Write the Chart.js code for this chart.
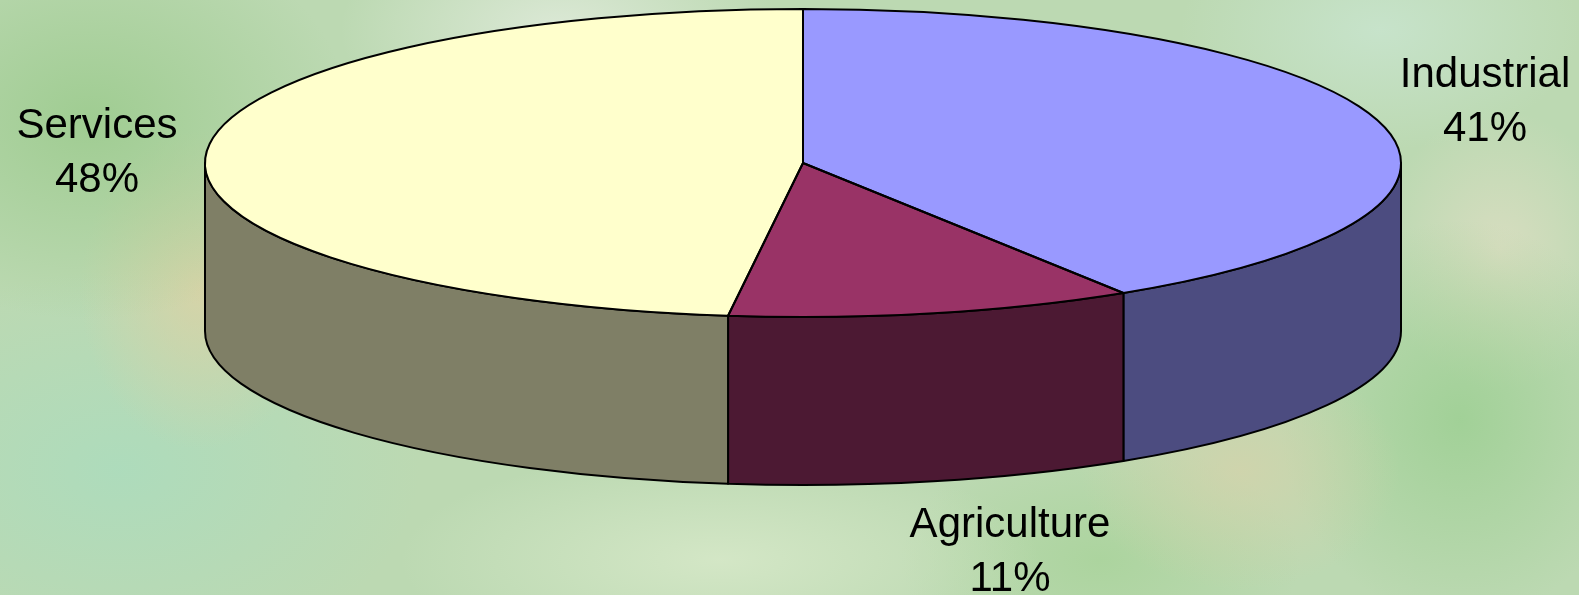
<!DOCTYPE html>
<html>
<head>
<meta charset="utf-8">
<script src="https://cdn.jsdelivr.net/npm/chart.js@4.4.1/dist/chart.umd.min.js"></script>
<style>
  html, body { margin: 0; padding: 0; }
  #wrap {
    width: 1579px; height: 595px; position: relative;
    background:
      radial-gradient(ellipse 260px 200px at 90px 120px, rgba(150,200,135,0.75), rgba(150,200,135,0) 100%),
      radial-gradient(ellipse 220px 120px at 560px 30px, rgba(225,235,220,0.85), rgba(225,235,220,0) 100%),
      radial-gradient(ellipse 120px 160px at 200px 290px, rgba(220,210,165,0.8), rgba(220,210,165,0) 100%),
      radial-gradient(ellipse 300px 200px at 120px 470px, rgba(170,220,190,0.8), rgba(170,220,190,0) 100%),
      radial-gradient(ellipse 320px 110px at 720px 560px, rgba(214,232,200,0.9), rgba(214,232,200,0) 100%),
      radial-gradient(ellipse 160px 120px at 1240px 470px, rgba(215,210,170,0.7), rgba(215,210,170,0) 100%),
      radial-gradient(ellipse 180px 200px at 1460px 420px, rgba(150,205,140,0.7), rgba(150,205,140,0) 100%),
      radial-gradient(ellipse 200px 120px at 1380px 30px, rgba(200,228,205,0.9), rgba(200,228,205,0) 100%),
      radial-gradient(ellipse 120px 140px at 1500px 250px, rgba(222,222,195,0.8), rgba(222,222,195,0) 100%),
      radial-gradient(ellipse 200px 120px at 1100px 560px, rgba(165,210,150,0.7), rgba(165,210,150,0) 100%),
      #bcd9b2;
  }
</style>
</head>
<body>
<div id="wrap"><canvas id="chart1"></canvas></div>
<script>
const categories = ['Industrial', 'Agriculture', 'Services'];
const shares = [41, 11, 48];
const topColors = ['#9999FF', '#993366', '#FFFFCC'];
const sideColors = ['#4C4C80', '#4C1933', '#7F7F66'];

// screen geometry of the tilted pie
const tilt = { rx: 598, ry: 154, depth: 168 };
const labelSpots = [
  { x: 1485, y: 87 },
  { x: 1010, y: 537 },
  { x: 97, y: 138 }
];

let tilted = false;
const pie3d = {
  id: 'pie3d',
  beforeDatasetsDraw(chart) {
    const arcs = chart.getDatasetMeta(0).data;
    if (!arcs.length) return;
    const ctx = chart.ctx;
    const cx = arcs[0].x, cy = arcs[0].y, r = arcs[0].outerRadius;
    // side walls, only the front half is visible
    ctx.save();
    ctx.lineWidth = 2;
    ctx.strokeStyle = '#000';
    ctx.lineJoin = 'round';
    arcs.forEach((arc, i) => {
      [[0, Math.PI], [2 * Math.PI, 3 * Math.PI]].forEach(([lo, hi]) => {
        const a = Math.max(arc.startAngle, lo), b = Math.min(arc.endAngle, hi);
        if (b <= a) return;
        ctx.beginPath();
        ctx.ellipse(cx, cy, tilt.rx, tilt.ry, 0, a, b);
        ctx.ellipse(cx, cy + tilt.depth, tilt.rx, tilt.ry, 0, b, a, true);
        ctx.closePath();
        ctx.fillStyle = sideColors[i];
        ctx.fill();
        ctx.stroke();
      });
    });
    ctx.restore();
    // squash the round pie into the top ellipse
    ctx.save();
    ctx.translate(cx, cy);
    ctx.scale(tilt.rx / r, tilt.ry / r);
    ctx.translate(-cx, -cy);
    tilted = true;
  },
  afterDatasetsDraw(chart) {
    if (!tilted) return;
    const ctx = chart.ctx;
    ctx.restore();
    tilted = false;
    const arcs = chart.getDatasetMeta(0).data;
    const cx = arcs[0].x, cy = arcs[0].y;
    ctx.save();
    ctx.lineWidth = 2;
    ctx.strokeStyle = '#000';
    ctx.lineJoin = 'round';
    arcs.forEach(arc => {
      ctx.beginPath();
      ctx.moveTo(cx, cy);
      ctx.ellipse(cx, cy, tilt.rx, tilt.ry, 0, arc.startAngle, arc.endAngle);
      ctx.closePath();
      ctx.stroke();
    });
    ctx.restore();
  },
  afterDraw(chart) {
    const ctx = chart.ctx;
    const data = chart.data.datasets[0].data;
    const total = data.reduce((s, v) => s + v, 0);
    ctx.save();
    ctx.font = '42px "Liberation Sans", Arial, sans-serif';
    ctx.fillStyle = '#000';
    ctx.textAlign = 'center';
    ctx.textBaseline = 'alphabetic';
    chart.data.labels.forEach((lab, i) => {
      const p = labelSpots[i];
      ctx.fillText(lab, p.x, p.y);
      ctx.fillText(Math.round(data[i] / total * 100) + '%', p.x, p.y + 54);
    });
    ctx.restore();
  }
};

const ctx = document.getElementById('chart1');
new Chart(ctx, {
  type: 'pie',
  data: {
    labels: categories,
    datasets: [{
      data: shares,
      backgroundColor: topColors,
      borderWidth: 0,
      hoverOffset: 0,
      clip: false
    }]
  },
  options: {
    responsive: true,
    maintainAspectRatio: false,
    animation: false,
    events: [],
    layout: {
      padding: { left: 653, right: 626, top: 13, bottom: 282 }
    },
    plugins: {
      legend: { display: false },
      tooltip: { enabled: false },
      title: { display: false }
    }
  },
  plugins: [pie3d]
});
</script>
</body>
</html>
